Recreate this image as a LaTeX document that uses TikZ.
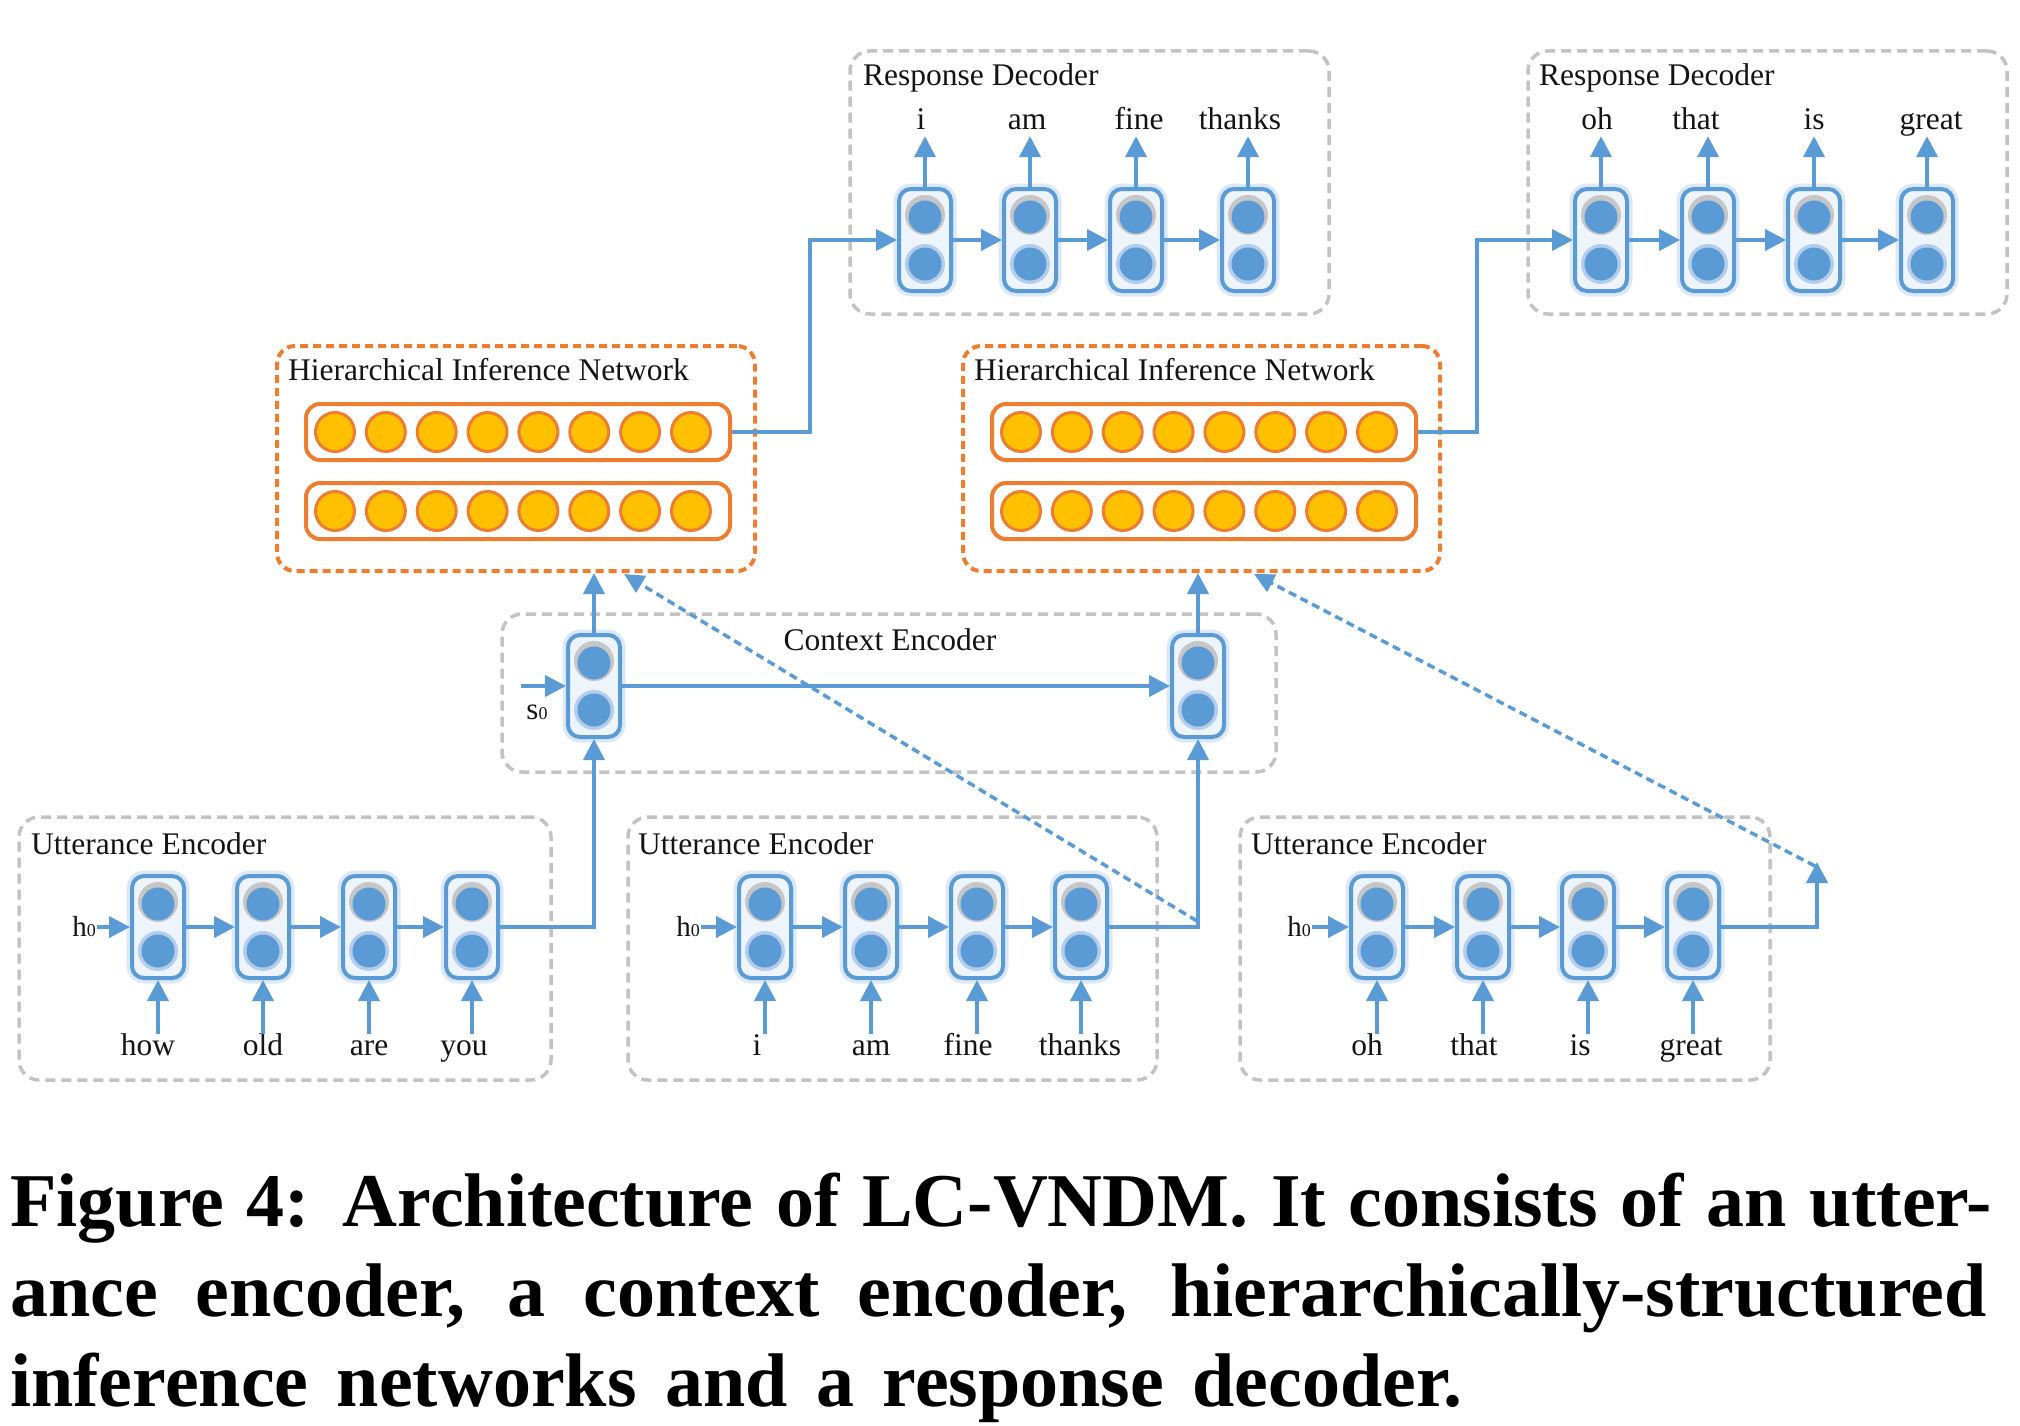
\documentclass[tikz,border=0pt]{standalone}
\usepackage{fontspec}
\setmainfont{Liberation Serif}
\usetikzlibrary{arrows.meta,fit}
\definecolor{lblue}{HTML}{5B9BD5}
\definecolor{lorange}{HTML}{ED7D31}
\definecolor{lyellow}{HTML}{FFC000}
\definecolor{lgray}{HTML}{C3C3C3}
\definecolor{cellfill}{HTML}{EEF4FB}
\definecolor{halogray}{HTML}{C6C6C6}
\definecolor{haloblue}{HTML}{B3CDEB}
\definecolor{glow}{HTML}{DCE8F6}
\definecolor{txt}{HTML}{141414}
\tikzset{
 cellbox/.style={draw=lblue, line width=4pt, fill=cellfill, rounded corners=12pt, minimum width=52pt, minimum height=102pt, inner sep=0pt, preaction={draw=glow, line width=11pt}},
 arr/.style={draw=lblue, line width=4pt, -{Triangle[length=21pt,width=21pt]}},
 dasharr/.style={draw=lblue, line width=3.5pt, dash pattern=on 8pt off 5pt, -{Triangle[length=20pt,width=19pt]}},
 graybox/.style={draw=lgray, line width=3.5pt, dash pattern=on 10pt off 6pt, rounded corners=20pt, inner sep=0pt},
 orangebox/.style={draw=lorange, line width=4pt, dash pattern=on 8pt off 5pt, rounded corners=18pt, inner sep=0pt},
 hinrow/.style={draw=lorange, line width=4pt, fill=white, rounded corners=14pt, inner sep=0pt},
 ycirc/.style={circle, draw=lorange, line width=3pt, fill=lyellow, minimum size=39pt, inner sep=0pt},
 lbl/.style={font=\fontsize{31.5}{36}\selectfont, inner sep=0pt, text=txt},
 inword/.style={lbl, text height=21pt, text depth=8pt, anchor=base},
 outword/.style={lbl, text height=22pt, text depth=6pt, anchor=base},
 boxtitle/.style={lbl, anchor=base west},
 hlabel/.style={lbl, anchor=east, inner xsep=1pt},
 capline/.style={font=\fontsize{76}{90}\selectfont\bfseries, inner sep=0pt, anchor=base west, text=black},
}
\newcommand\rnncell[3]{%
 \node[cellbox] (#1) at (#2,#3) {};
 \fill[halogray] (#2,#3-25) circle (20pt);
 \fill[lblue] (#2,#3-23) circle (16.5pt);
 \fill[haloblue] (#2,#3+24) circle (20pt);
 \fill[lblue] (#2,#3+24) circle (16.5pt);
}
\newcommand\hzero{{\fontsize{29}{30}\selectfont h\fontsize{18}{20}\selectfont 0}}
\newcommand\szero{{\fontsize{31}{30}\selectfont s\fontsize{18}{20}\selectfont 0}}
\begin{document}
\begin{tikzpicture}[x=1pt,y=-1pt]
\useasboundingbox (0,0) rectangle (2020,1426);
% ---------- containers ----------
\node[graybox, fit={(850,51) (1329,314)}] (rd1) {};
\node[graybox, fit={(1528,51) (2007,314)}] (rd2) {};
\node[graybox, fit={(502,614) (1276,772)}] (ctx) {};
\node[graybox, fit={(19,817) (551,1080)}] (ue1) {};
\node[graybox, fit={(628,817) (1157,1080)}] (ue2) {};
\node[graybox, fit={(1240,817) (1770,1080)}] (ue3) {};
\node[orangebox, fit={(277,346) (755,571)}] (hin1) {};
\node[orangebox, fit={(963,346) (1440,571)}] (hin2) {};
% ---------- titles ----------
\node[boxtitle] (trd1) at (863,86) {Response Decoder};
\node[boxtitle] (trd2) at (1539,86) {Response Decoder};
\node[boxtitle] (thin1) at (288,380) {Hierarchical Inference Network};
\node[boxtitle] (thin2) at (974,380) {Hierarchical Inference Network};
\node[lbl, anchor=base] (tctx) at (890,650) {Context Encoder};
\node[boxtitle] (tue1) at (31,854) {Utterance Encoder};
\node[boxtitle] (tue2) at (638,854) {Utterance Encoder};
\node[boxtitle] (tue3) at (1251,854) {Utterance Encoder};
% ---------- hierarchical inference networks ----------
\node[hinrow, fit={(306,404) (730,460)}] (h1r1) {};
\node[hinrow, fit={(306,483) (730,539)}] (h1r2) {};
\node[hinrow, fit={(992,404) (1416,460)}] (h2r1) {};
\node[hinrow, fit={(992,483) (1416,539)}] (h2r2) {};
\foreach \i in {0,...,7} {
  \node[ycirc] (h1a\i) at ({335+50.85*\i},432) {};
  \node[ycirc] (h1b\i) at ({335+50.85*\i},511) {};
  \node[ycirc] (h2a\i) at ({1021+50.85*\i},432) {};
  \node[ycirc] (h2b\i) at ({1021+50.85*\i},511) {};
}
% ---------- cells ----------
\foreach \n/\x in {1/925,2/1030,3/1136,4/1248} {\rnncell{rda\n}{\x}{240}}
\foreach \n/\x in {1/1601,2/1708,3/1814,4/1927} {\rnncell{rdb\n}{\x}{240}}
\foreach \n/\x in {1/158,2/263,3/369,4/472} {\rnncell{uea\n}{\x}{927}}
\foreach \n/\x in {1/765,2/871,3/977,4/1081} {\rnncell{ueb\n}{\x}{927}}
\foreach \n/\x in {1/1377,2/1483,3/1588,4/1693} {\rnncell{uec\n}{\x}{927}}
\rnncell{ctx1}{594}{686}
\rnncell{ctx2}{1198}{686}
% ---------- words ----------
\foreach \n/\x/\w in {1/921/i,2/1027/am,3/1139/fine,4/1240/thanks} {\node[outword] (rdaw\n) at (\x,130) {\w};}
\foreach \n/\x/\w in {1/1597/oh,2/1696/that,3/1814/is,4/1931/great} {\node[outword] (rdbw\n) at (\x,130) {\w};}
\foreach \n/\x/\w in {1/148/how,2/263/old,3/369/are,4/464/you} {\node[inword] (ueaw\n) at (\x,1055) {\w};}
\foreach \n/\x/\w in {1/757/i,2/871/am,3/968/fine,4/1080/thanks} {\node[inword] (uebw\n) at (\x,1055) {\w};}
\foreach \n/\x/\w in {1/1367/oh,2/1474/that,3/1580/is,4/1691/great} {\node[inword] (uecw\n) at (\x,1055) {\w};}
\node[hlabel] (h0a) at (97,927) {\hzero};
\node[hlabel] (h0b) at (701,927) {\hzero};
\node[hlabel] (h0c) at (1312,927) {\hzero};
\node[lbl] (s0) at (537,712) {\szero};
\coordinate (s0start) at (521,686);
% ---------- arrows inside chains ----------
\foreach \c in {rda,rdb,uea,ueb,uec} {
  \foreach \a/\b in {1/2,2/3,3/4} {\draw[arr] (\c\a.east) -- (\c\b.west);}
}
\foreach \n in {1,...,4} {
  \draw[arr] (rda\n.north) -- (rda\n.north |- rdaw\n.south);
  \draw[arr] (rdb\n.north) -- (rdb\n.north |- rdbw\n.south);
  \draw[arr] (ueaw\n.north -| uea\n.south) -- (uea\n.south);
  \draw[arr] (uebw\n.north -| ueb\n.south) -- (ueb\n.south);
  \draw[arr] (uecw\n.north -| uec\n.south) -- (uec\n.south);
}
\draw[arr] (h0a.east) -- (h0a.east -| uea1.west);
\draw[arr] (h0b.east) -- (h0b.east -| ueb1.west);
\draw[arr] (h0c.east) -- (h0c.east -| uec1.west);
\draw[arr] (s0start) -- (ctx1.west);
\draw[arr] (ctx1.east) -- (ctx2.west);
% ---------- between modules ----------
\draw[arr] (uea4.east) -| (ctx1.south);
\draw[arr] (ueb4.east) -| (ctx2.south);
\coordinate (uecend) at (1817,862);
\draw[arr] (uec4.east) -| (uecend);
\draw[arr] (ctx1.north) -- (ctx1.north |- hin1.south);
\draw[arr] (ctx2.north) -- (ctx2.north |- hin2.south);
\coordinate (k1) at (810,0);
\coordinate (k2) at (1477,0);
\draw[arr] (h1r1.east) -- (h1r1.east -| k1) |- (rda1.west);
\draw[arr] (h2r1.east) -- (h2r1.east -| k2) |- (rdb1.west);
\coordinate (d1s) at (1197,921);
\coordinate (d1e) at (624,574);
\coordinate (d2s) at (1815,866);
\coordinate (d2e) at (1254,574);
\draw[dasharr] (d1s) -- (d1e);
\draw[dasharr] (d2s) -- (d2e);
% ---------- caption ----------
\node[capline] (cap1) at (10,1226) {\makebox[1982pt][s]{Figure 4: Architecture of LC-VNDM. It consists of an utter-}};
\node[capline] (cap2) at (10,1316) {\makebox[1976pt][s]{ance encoder, a context encoder, hierarchically-structured}};
\node[capline] (cap3) at (10,1406) {\makebox[1452pt][s]{inference networks and a response decoder.}};
\end{tikzpicture}
\end{document}
